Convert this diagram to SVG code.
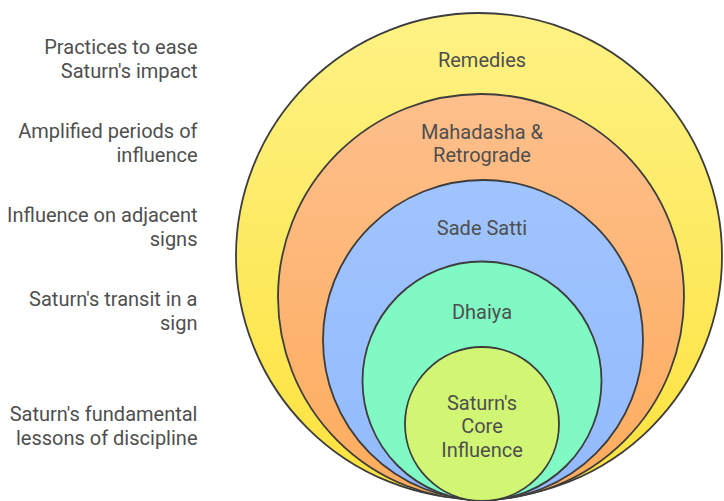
<svg xmlns="http://www.w3.org/2000/svg" width="724" height="501" viewBox="0 0 724 501">
  <defs>
    <linearGradient id="gYellow" x1="0" y1="0" x2="0" y2="1">
      <stop offset="0" stop-color="#FEF285"/>
      <stop offset="1" stop-color="#FDE23C"/>
    </linearGradient>
    <linearGradient id="gOrange" x1="0" y1="0" x2="0" y2="1">
      <stop offset="0" stop-color="#FEBF8C"/>
      <stop offset="1" stop-color="#FDAC5C"/>
    </linearGradient>
    <linearGradient id="gBlue" x1="0" y1="0" x2="0" y2="1">
      <stop offset="0" stop-color="#A0C4FE"/>
      <stop offset="1" stop-color="#92BAFC"/>
    </linearGradient>
  </defs>
  <style>
    .ring { stroke: #3d3d3d; stroke-width: 1.8; }
    .lbl { font-family: Roboto, "Liberation Sans", sans-serif; font-size: 20px; fill: #4f4f4f; }
    .side { text-anchor: end; }
    .mid { text-anchor: middle; }
  </style>

  <!-- side descriptions -->
  <g id="descriptions" class="lbl side">
    <text x="197.5" y="54">Practices to ease</text>
    <text x="197.5" y="78">Saturn's impact</text>
    <text x="197.5" y="138">Amplified periods of</text>
    <text x="197.5" y="162">influence</text>
    <text x="197.5" y="222">Influence on adjacent</text>
    <text x="197.5" y="246">signs</text>
    <text x="197.5" y="306">Saturn's transit in a</text>
    <text x="197.5" y="330">sign</text>
    <text x="197.5" y="421">Saturn's fundamental</text>
    <text x="197.5" y="445">lessons of discipline</text>
  </g>

  <g id="connectors"></g>

  <!-- nested layers, outermost first -->
  <g id="remedies">
    <circle class="ring" cx="479" cy="256" r="243" fill="url(#gYellow)"/>
    <text class="lbl mid" x="482" y="66.5">Remedies</text>
  </g>
  <g id="mahadasha">
    <circle class="ring" cx="481" cy="297" r="203" fill="url(#gOrange)"/>
    <text class="lbl mid" x="482" y="138.5">Mahadasha &amp;</text>
    <text class="lbl mid" x="482" y="162">Retrograde</text>
  </g>
  <g id="sade-satti">
    <circle class="ring" cx="483" cy="340" r="160" fill="url(#gBlue)"/>
    <text class="lbl mid" x="482" y="235">Sade Satti</text>
  </g>
  <g id="dhaiya">
    <circle class="ring" cx="482" cy="381" r="119.5" fill="#80F9C4"/>
    <text class="lbl mid" x="482" y="319">Dhaiya</text>
  </g>
  <g id="core">
    <circle class="ring" cx="482" cy="424" r="77" fill="#D0F674"/>
    <text class="lbl mid" x="482" y="409.5">Saturn's</text>
    <text class="lbl mid" x="482" y="433">Core</text>
    <text class="lbl mid" x="482" y="456.5">Influence</text>
  </g>
</svg>
